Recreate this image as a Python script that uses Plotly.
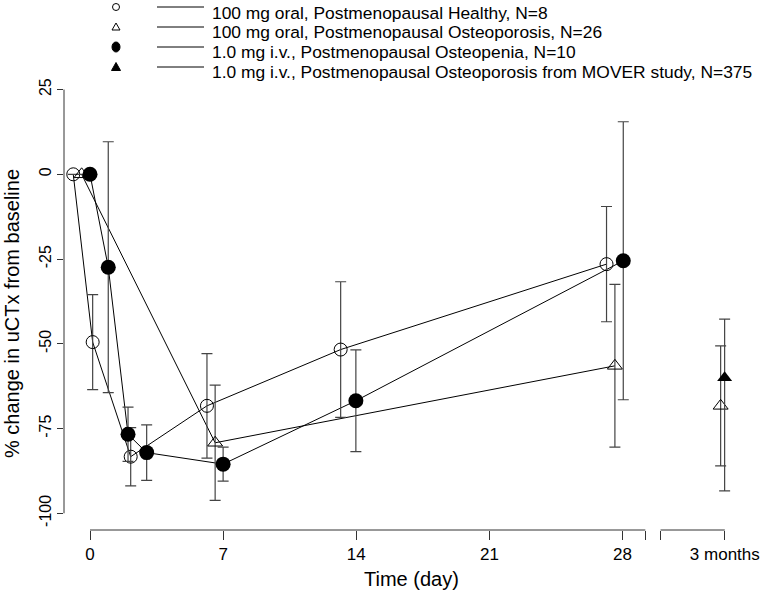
import plotly.graph_objects as go

# ---------------- data ----------------
# 100 mg oral, Postmenopausal Healthy (open circles)
healthy_day = [-0.88, 0.14, 2.14, 6.15, 13.18, 27.16]
healthy_chg = [0, -49.5, -83.3, -68.3, -51.7, -26.5]
healthy_err = [0, 14, 8.6, 15.4, 20, 17]

# 100 mg oral, Postmenopausal Osteoporosis (open triangles)
osteo_day = [-0.44, 6.58, 27.6]
osteo_chg = [0, -79.2, -56.5]
osteo_err = [0, 17, 24]
osteo_3m_day = [33.16]
osteo_3m_chg = [-68.3]
osteo_3m_err = [17.7]

# 1.0 mg i.v., Postmenopausal Osteopenia (filled circles)
penia_day = [0, 0.96, 2.0, 2.98, 7.0, 13.98, 28.04]
penia_chg = [0, -27.4, -76.7, -82.1, -85.5, -66.8, -25.5]
penia_err = [0, 37, 8, 8.2, 5, 15, 41]

# 1.0 mg i.v., Postmenopausal Osteoporosis from MOVER study (filled triangle)
mover_day = [33.37]
mover_chg = [-60]
mover_err_plus = [17.3]
mover_err_minus = [33.4]

x_tickvals = [0, 7, 14, 21, 28, 29.2, 30.0, 33.38]
x_ticktext = ["0", "7", "14", "21", "28", "", "", "3 months"]
y_tickvals = [25, 0, -25, -50, -75, -100]
y_ticktext = ["25", "0", "-25", "-50", "-75", "-100"]

legend_labels = [
    "100 mg oral, Postmenopausal Healthy, N=8",
    "100 mg oral, Postmenopausal Osteoporosis, N=26",
    "1.0 mg i.v., Postmenopausal Osteopenia, N=10",
    "1.0 mg i.v., Postmenopausal Osteoporosis from MOVER study, N=375",
]

# ---------------- layout geometry ----------------
W, H = 780, 593
ML, MR, MT, MB = 64, 16, 80, 63
PW, PH = W - ML - MR, H - MT - MB
FONT = "Liberation Sans, Arial, sans-serif"
ERRC = "#444444"


def px2x(px):
    return (px - ML) / PW


def py2y(py):
    return (H - MB - py) / PH


def err(arr, minus=None):
    d = dict(type="data", array=arr, color=ERRC, thickness=1.2, width=5.5, visible=True)
    if minus is not None:
        d["symmetric"] = False
        d["arrayminus"] = minus
    return d


fig = go.Figure()

# connecting lines
for xs, ys in [(healthy_day, healthy_chg), (osteo_day, osteo_chg), (penia_day, penia_chg)]:
    fig.add_trace(go.Scatter(x=xs, y=ys, mode="lines", line=dict(color="black", width=1),
                             hoverinfo="skip", showlegend=False))

# markers with error bars
fig.add_trace(go.Scatter(x=healthy_day, y=healthy_chg, mode="markers", error_y=err(healthy_err),
                         marker=dict(symbol="circle-open", size=13, color="black", line=dict(width=1)),
                         name=legend_labels[0], showlegend=False))
fig.add_trace(go.Scatter(x=osteo_day + osteo_3m_day, y=osteo_chg + osteo_3m_chg, mode="markers",
                         error_y=err(osteo_err + osteo_3m_err),
                         marker=dict(symbol="triangle-up-open", size=13, color="black", line=dict(width=1)),
                         name=legend_labels[1], showlegend=False))
fig.add_trace(go.Scatter(x=penia_day, y=penia_chg, mode="markers", error_y=err(penia_err),
                         marker=dict(symbol="circle", size=15, color="black", line=dict(width=0)),
                         name=legend_labels[2], showlegend=False))
fig.add_trace(go.Scatter(x=mover_day, y=mover_chg, mode="markers",
                         error_y=err(mover_err_plus, mover_err_minus),
                         marker=dict(symbol="triangle-up", size=13, color="black", line=dict(width=0)),
                         name=legend_labels[3], showlegend=False))

shapes = []
# y axis line (25 .. -100)
shapes.append(dict(type="line", xref="paper", yref="y", x0=0, x1=0,
                   y0=y_tickvals[-1], y1=y_tickvals[0], line=dict(color="#333333", width=1)))
# broken x axis
shapes.append(dict(type="line", xref="x", yref="paper", x0=x_tickvals[0], x1=x_tickvals[5],
                   y0=0, y1=0, line=dict(color="#333333", width=1)))
shapes.append(dict(type="line", xref="x", yref="paper", x0=x_tickvals[6], x1=x_tickvals[7],
                   y0=0, y1=0, line=dict(color="#333333", width=1)))

# manual legend
row_line_y = [7, 27, 47, 67]
row_text_y = [12.5, 32, 52, 72]
sym_x = 116
annotations = []
for i, lab in enumerate(legend_labels):
    ly = py2y(row_line_y[i])
    shapes.append(dict(type="line", xref="paper", yref="paper", x0=px2x(157), x1=px2x(204),
                       y0=ly, y1=ly, line=dict(color="black", width=1)))
    annotations.append(dict(text=lab, xref="paper", yref="paper", x=px2x(210), y=py2y(row_text_y[i]),
                            xanchor="left", yanchor="middle", showarrow=False,
                            font=dict(family=FONT, size=17.4, color="black")))
    common = dict(xref="paper", yref="paper", xsizemode="pixel", ysizemode="pixel",
                  xanchor=px2x(sym_x), yanchor=ly)
    if i == 0:
        shapes.append(dict(type="circle", x0=-3.5, x1=3.5, y0=-3.5, y1=3.5,
                           line=dict(color="black", width=1), **common))
    elif i == 1:
        shapes.append(dict(type="path", path="M-4,-3 L4,-3 L0,4 Z",
                           line=dict(color="black", width=1), **common))
    elif i == 2:
        shapes.append(dict(type="circle", x0=-4, x1=4, y0=-5, y1=5, fillcolor="black",
                           line=dict(color="black", width=1), **common))
    else:
        shapes.append(dict(type="path", path="M-4.5,-3.5 L4.5,-3.5 L0,4.5 Z", fillcolor="black",
                           line=dict(color="black", width=1), **common))

# axis titles
annotations.append(dict(text="Time (day)", xref="paper", yref="paper", x=px2x(411), y=py2y(579),
                        xanchor="center", yanchor="middle", showarrow=False,
                        font=dict(family=FONT, size=20, color="black")))
annotations.append(dict(text="% change in uCTx from baseline", xref="paper", yref="paper",
                        x=px2x(12), y=py2y(314), textangle=-90, xanchor="center", yanchor="middle",
                        showarrow=False, font=dict(family=FONT, size=20, color="black")))

fig.update_layout(
    width=W, height=H,
    margin=dict(l=ML, r=MR, t=MT, b=MB, pad=0),
    paper_bgcolor="white", plot_bgcolor="white",
    showlegend=False,
    font=dict(family=FONT, color="black"),
    shapes=shapes, annotations=annotations,
    xaxis=dict(range=[-1.367, 35.44], showline=False, showgrid=False, zeroline=False,
               ticks="outside", ticklen=9, tickwidth=1, tickcolor="#333333",
               tickmode="array", tickvals=x_tickvals, ticktext=x_ticktext,
               tickfont=dict(family=FONT, size=17, color="black")),
    yaxis=dict(range=[-104.93, 27.82], showline=False, showgrid=False, zeroline=False,
               ticks="outside", ticklen=6, tickwidth=1, tickcolor="#333333",
               tickmode="array", tickvals=y_tickvals, ticktext=y_ticktext, tickangle=-90,
               tickfont=dict(family=FONT, size=16, color="black")),
)

fig.write_html("out.html", config={"displayModeBar": False},
               post_script="document.body.style.margin='0';document.body.style.overflow='hidden';")
